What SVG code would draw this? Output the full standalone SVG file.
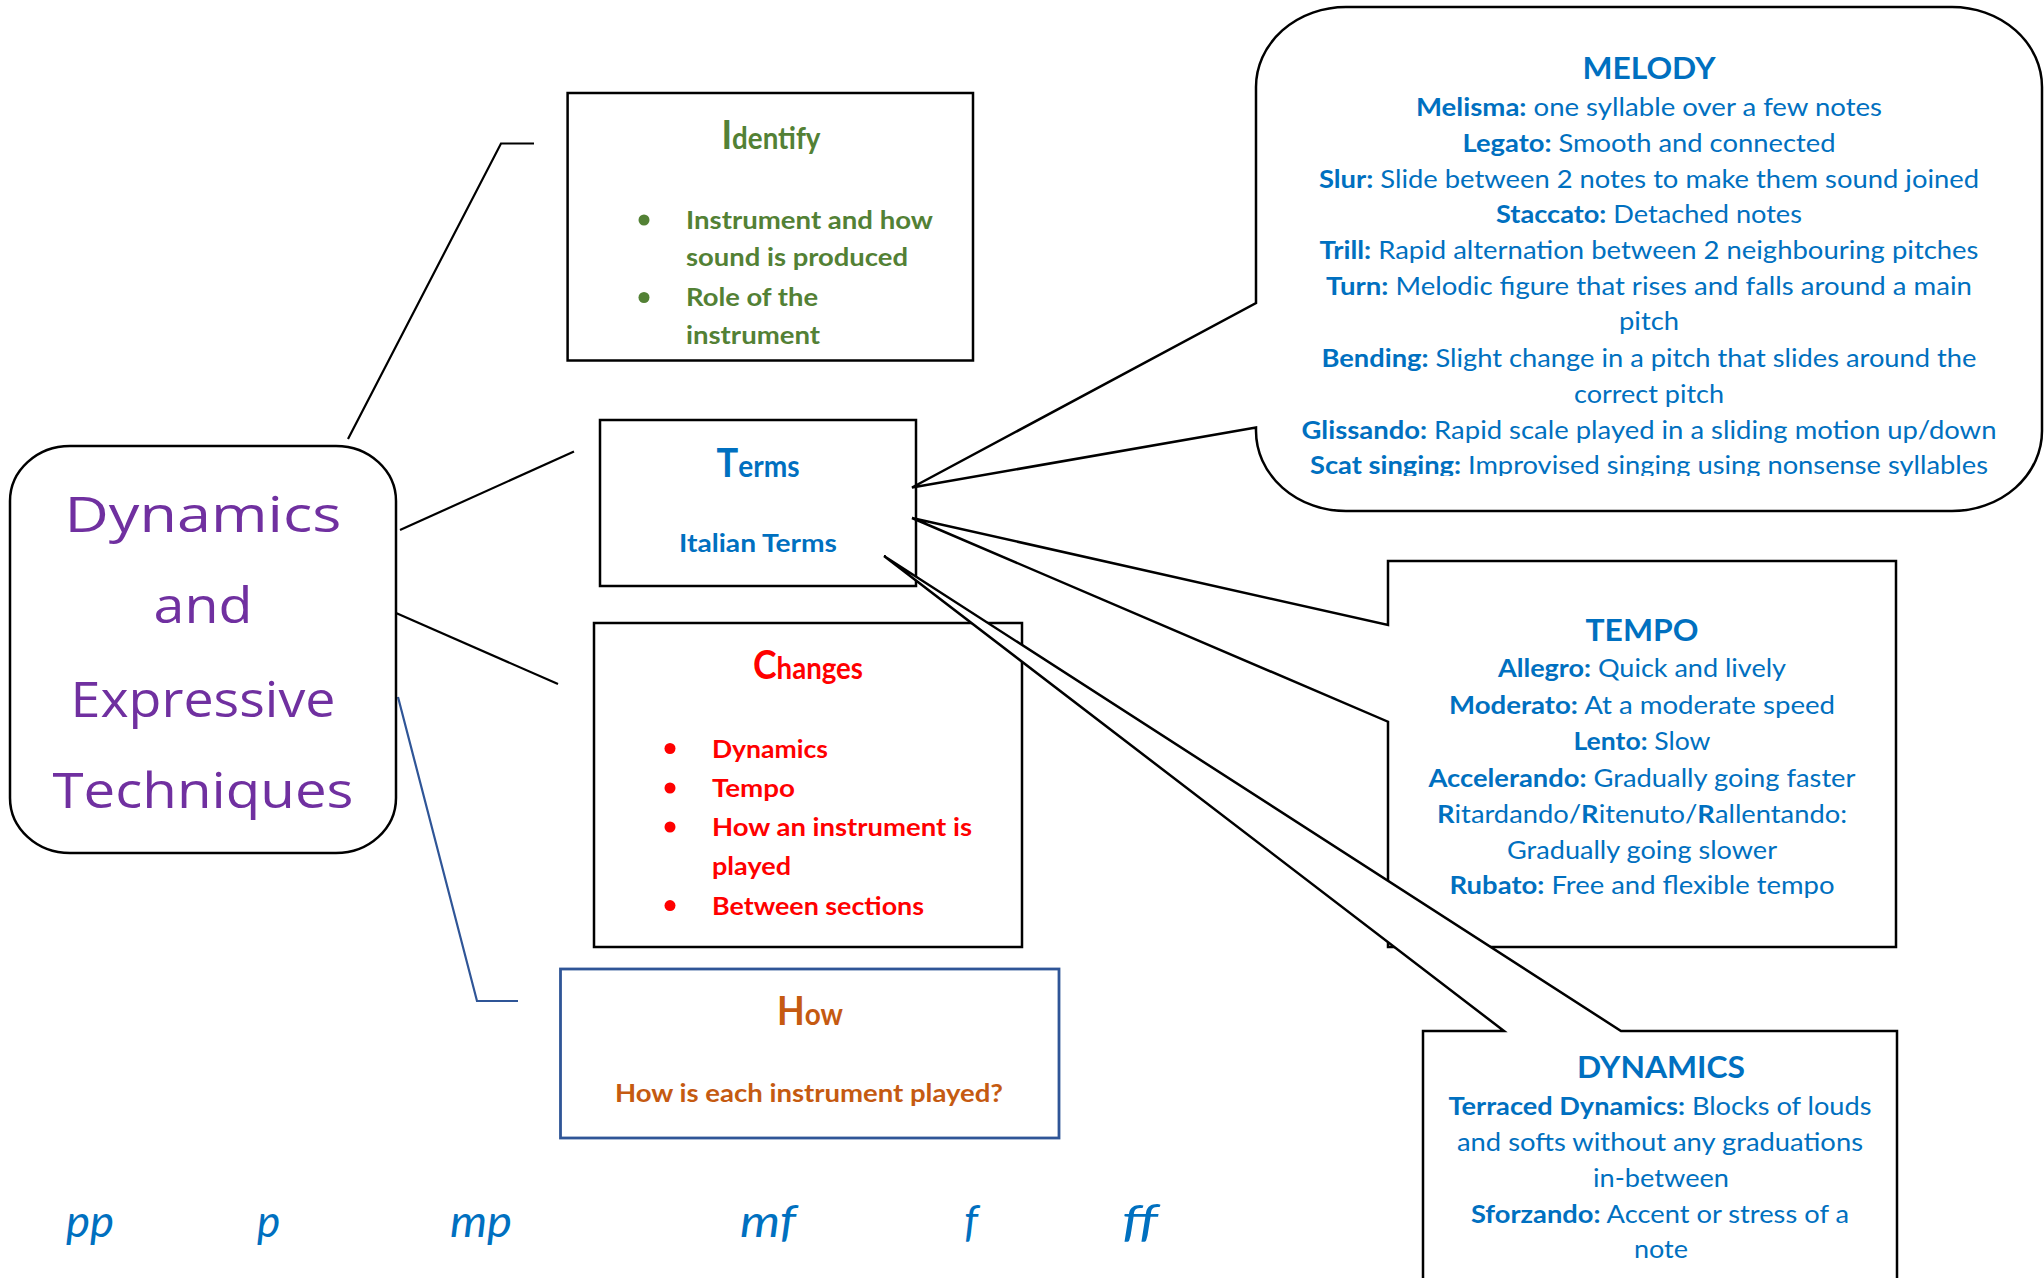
<svg xmlns="http://www.w3.org/2000/svg" width="2044" height="1278" viewBox="0 0 2044 1278">
<defs>
<style>
.box{fill:#fff;stroke:#000;stroke-width:2.5}
.conn{fill:none;stroke:#000;stroke-width:2.2}
.connb{fill:none;stroke:#2F5597;stroke-width:2.2}
text{font-family:Lato,"Liberation Sans",sans-serif}
.blue{fill:#0070C0}
.green{fill:#538135}
.red{fill:#FF0000}
.orange{fill:#C55A11}
.purple{fill:#7030A0;font-family:"Open Sans",Lato,sans-serif;font-size:50px}
.b{font-weight:700}
.body{font-size:25px}
.head{font-size:30px;font-weight:700}
.big{font-size:40px}
.sm{font-size:31px}
.mark{font-style:italic;font-size:44px;fill:#0070C0}
</style>
<clipPath id="melclip"><rect x="1256" y="7" width="786" height="469"/></clipPath>
</defs>
<rect width="2044" height="1278" fill="#fff"/>

<g id="connectors">
<path class="conn" d="M348,439 L501,143.5 H534"/>
<path class="conn" d="M400,530 L574,451.5"/>
<path class="conn" d="M396,613 L558,684"/>
<path class="connb" d="M398,697 L477,1001 H518"/>
</g>

<g id="main">
<rect class="box" x="10" y="446" width="386" height="407" rx="60" ry="55"/>
<text class="purple" text-anchor="middle" x="203" y="531.7" textLength="277" lengthAdjust="spacingAndGlyphs">Dynamics</text>
<text class="purple" text-anchor="middle" x="203" y="623" textLength="99" lengthAdjust="spacingAndGlyphs">and</text>
<text class="purple" text-anchor="middle" x="203" y="716.7" textLength="265" lengthAdjust="spacingAndGlyphs">Expressive</text>
<text class="purple" text-anchor="middle" x="203" y="808" textLength="301" lengthAdjust="spacingAndGlyphs">Techniques</text>
</g>

<g id="identify">
<rect class="box" x="567.6" y="93" width="405.4" height="267.5"/>
<text class="green b" text-anchor="middle" x="771" y="149" textLength="99" lengthAdjust="spacingAndGlyphs"><tspan class="big">I</tspan><tspan class="sm">dentify</tspan></text>
<circle class="green" cx="644" cy="220" r="5.5"/>
<circle class="green" cx="644" cy="297.5" r="5.5"/>
<text class="green b body" x="686" y="228.5" textLength="247" lengthAdjust="spacingAndGlyphs">Instrument and how</text>
<text class="green b body" x="686" y="265.5" textLength="222" lengthAdjust="spacingAndGlyphs">sound is produced</text>
<text class="green b body" x="686" y="306" textLength="132" lengthAdjust="spacingAndGlyphs">Role of the</text>
<text class="green b body" x="686" y="343.5" textLength="134" lengthAdjust="spacingAndGlyphs">instrument</text>
</g>

<g id="terms">
<rect class="box" x="600" y="420" width="316" height="166"/>
<text class="blue b" text-anchor="middle" x="758" y="476.5" textLength="83" lengthAdjust="spacingAndGlyphs"><tspan class="big">T</tspan><tspan class="sm">erms</tspan></text>
<text class="blue b body" text-anchor="middle" x="758" y="552" textLength="158" lengthAdjust="spacingAndGlyphs">Italian Terms</text>
</g>

<g id="changes">
<rect class="box" x="594" y="623" width="428" height="324"/>
<text class="red b" text-anchor="middle" x="808" y="679" textLength="110" lengthAdjust="spacingAndGlyphs"><tspan class="big">C</tspan><tspan class="sm">hanges</tspan></text>
<circle class="red" cx="670" cy="748.5" r="5.5"/>
<circle class="red" cx="670" cy="788" r="5.5"/>
<circle class="red" cx="670" cy="827" r="5.5"/>
<circle class="red" cx="670" cy="905.6" r="5.5"/>
<text class="red b body" x="712" y="757.5" textLength="116" lengthAdjust="spacingAndGlyphs">Dynamics</text>
<text class="red b body" x="712" y="797" textLength="83" lengthAdjust="spacingAndGlyphs">Tempo</text>
<text class="red b body" x="712" y="836" textLength="260" lengthAdjust="spacingAndGlyphs">How an instrument is</text>
<text class="red b body" x="712" y="875" textLength="79" lengthAdjust="spacingAndGlyphs">played</text>
<text class="red b body" x="712" y="914.6" textLength="212" lengthAdjust="spacingAndGlyphs">Between sections</text>
</g>

<g id="how">
<rect x="560.5" y="969" width="498.5" height="169" fill="#fff" stroke="#2F5597" stroke-width="2.8"/>
<text class="orange b" text-anchor="middle" x="810" y="1025" textLength="66" lengthAdjust="spacingAndGlyphs"><tspan class="big">H</tspan><tspan class="sm">ow</tspan></text>
<text class="orange b body" text-anchor="middle" x="809" y="1101.7" textLength="388" lengthAdjust="spacingAndGlyphs">How is each instrument played?</text>
</g>

<g id="melody">
<path class="box" d="M1346,7 H1952 A90 80 0 0 1 2042,87 V431 A90 80 0 0 1 1952,511 H1346 A90 80 0 0 1 1256,431 V427.5 L912,487.5 L1256,303 V87 A90 80 0 0 1 1346,7 Z"/>
<text class="blue head" text-anchor="middle" x="1649" y="78.6" textLength="133" lengthAdjust="spacingAndGlyphs">MELODY</text>
<g class="blue body" text-anchor="middle">
<text x="1649" y="116" textLength="466" lengthAdjust="spacingAndGlyphs"><tspan class="b">Melisma:</tspan> one syllable over a few notes</text>
<text x="1649" y="152" textLength="373" lengthAdjust="spacingAndGlyphs"><tspan class="b">Legato:</tspan> Smooth and connected</text>
<text x="1649" y="187.5" textLength="660" lengthAdjust="spacingAndGlyphs"><tspan class="b">Slur:</tspan> Slide between 2 notes to make them sound joined</text>
<text x="1649" y="223" textLength="306" lengthAdjust="spacingAndGlyphs"><tspan class="b">Staccato:</tspan> Detached notes</text>
<text x="1649" y="259" textLength="659" lengthAdjust="spacingAndGlyphs"><tspan class="b">Trill:</tspan> Rapid alternation between 2 neighbouring pitches</text>
<text x="1649" y="294.6" textLength="646" lengthAdjust="spacingAndGlyphs"><tspan class="b">Turn:</tspan> Melodic figure that rises and falls around a main</text>
<text x="1649" y="330" textLength="60" lengthAdjust="spacingAndGlyphs">pitch</text>
<text x="1649" y="367" textLength="655" lengthAdjust="spacingAndGlyphs"><tspan class="b">Bending:</tspan> Slight change in a pitch that slides around the</text>
<text x="1649" y="402.5" textLength="150" lengthAdjust="spacingAndGlyphs">correct pitch</text>
<text x="1649" y="438.6" textLength="695" lengthAdjust="spacingAndGlyphs"><tspan class="b">Glissando:</tspan> Rapid scale played in a sliding motion up/down</text>
<text x="1649" y="474" textLength="678" lengthAdjust="spacingAndGlyphs" clip-path="url(#melclip)"><tspan class="b">Scat singing:</tspan> Improvised singing using nonsense syllables</text>
</g>
</g>

<g id="tempo">
<path class="box" d="M1388,561 H1896 V947 H1388 V721.7 L912,518 L1388,625 Z"/>
<text class="blue head" text-anchor="middle" x="1642" y="640.7" textLength="113" lengthAdjust="spacingAndGlyphs">TEMPO</text>
<g class="blue body" text-anchor="middle">
<text x="1642" y="677" textLength="288" lengthAdjust="spacingAndGlyphs"><tspan class="b">Allegro:</tspan> Quick and lively</text>
<text x="1642" y="714" textLength="386" lengthAdjust="spacingAndGlyphs"><tspan class="b">Moderato:</tspan> At a moderate speed</text>
<text x="1642" y="750" textLength="137" lengthAdjust="spacingAndGlyphs"><tspan class="b">Lento:</tspan> Slow</text>
<text x="1642" y="786.7" textLength="427" lengthAdjust="spacingAndGlyphs"><tspan class="b">Accelerando:</tspan> Gradually going faster</text>
<text x="1642" y="823" textLength="410" lengthAdjust="spacingAndGlyphs"><tspan class="b">R</tspan>itardando/<tspan class="b">R</tspan>itenuto/<tspan class="b">R</tspan>allentando:</text>
<text x="1642" y="859" textLength="270" lengthAdjust="spacingAndGlyphs">Gradually going slower</text>
<text x="1642" y="894" textLength="385" lengthAdjust="spacingAndGlyphs"><tspan class="b">Rubato:</tspan> Free and flexible tempo</text>
</g>
</g>

<g id="dynamics">
<path class="box" d="M1423,1031 H1504 L884,556 L1621,1031 H1897 V1284 H1423 Z"/>
<text class="blue head" text-anchor="middle" x="1661" y="1078" textLength="168" lengthAdjust="spacingAndGlyphs">DYNAMICS</text>
<g class="blue body" text-anchor="middle">
<text x="1660" y="1115" textLength="423" lengthAdjust="spacingAndGlyphs"><tspan class="b">Terraced Dynamics:</tspan> Blocks of louds</text>
<text x="1660" y="1151" textLength="406" lengthAdjust="spacingAndGlyphs">and softs without any graduations</text>
<text x="1661" y="1186.7" textLength="136" lengthAdjust="spacingAndGlyphs">in-between</text>
<text x="1660" y="1223" textLength="378" lengthAdjust="spacingAndGlyphs"><tspan class="b">Sforzando:</tspan> Accent or stress of a</text>
<text x="1661" y="1257.7" textLength="54" lengthAdjust="spacingAndGlyphs">note</text>
</g>
</g>

<g id="marks">
<text class="mark" x="66" y="1236.7" textLength="48" lengthAdjust="spacingAndGlyphs">pp</text>
<text class="mark" x="257" y="1236.7">p</text>
<text class="mark" x="450" y="1236.7" textLength="62" lengthAdjust="spacingAndGlyphs">mp</text>
<text class="mark" x="740" y="1236.7" textLength="56" lengthAdjust="spacingAndGlyphs">mf</text>
<text class="mark" x="964" y="1236.7">f</text>
<text class="mark" x="1122" y="1236.7" textLength="36" lengthAdjust="spacingAndGlyphs">ff</text>
</g>
</svg>
